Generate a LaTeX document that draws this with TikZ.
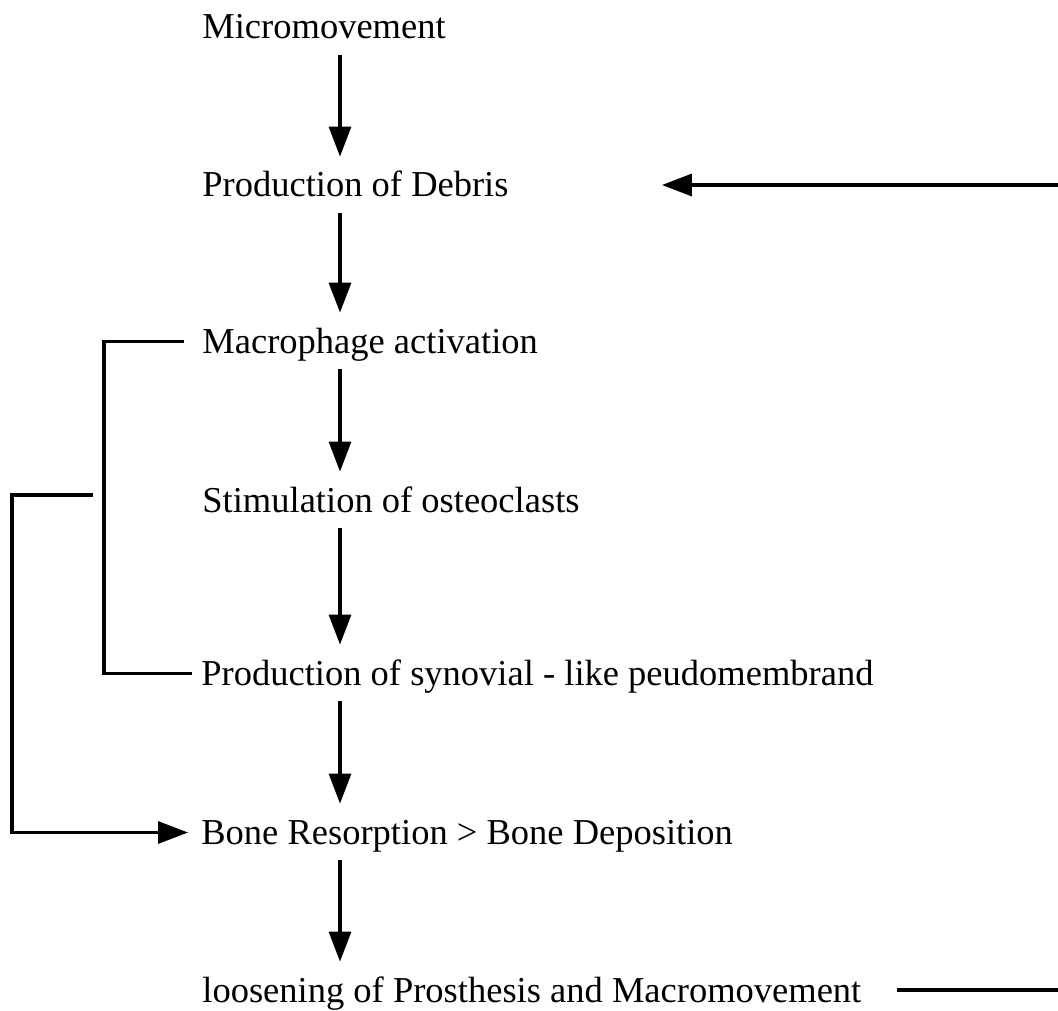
\documentclass[tikz,border=0pt]{standalone}
\usepackage{fontspec}
\setmainfont{Liberation Serif}
\usetikzlibrary{arrows.meta}

\begin{document}
\begin{tikzpicture}[x=0.5pt, y=-0.5pt,
  stage/.style={inner sep=0pt, anchor=base west, text height=12.5pt, text depth=1pt,
    font=\fontsize{18.25}{22}\selectfont},
  link/.style={line width=1.6pt},
  flow/.style={link, -{Triangle[length=15pt, width=11pt]}}]
  \useasboundingbox (0,0) rectangle (1058,1010);

  % stages, one under the other
  \node[stage] (micro) at (202,39) {Micromovement};
  \node[stage] (debris) at (202,197) {Production of Debris};
  \node[stage] (macro) at (202,353) {Macrophage activation};
  \node[stage] (stim) at (202,512) {Stimulation of osteoclasts};
  \node[stage] (syn) at (201,685) {Production of synovial - like peudomembrand};
  \node[stage] (bone) at (201,844) {Bone Resorption > Bone Deposition};
  \node[stage] (loose) at (202,1002) {loosening of Prosthesis and Macromovement};

  % main chain
  \coordinate (spine) at (340,0);
  \foreach \a/\b in {micro/debris, debris/macro, macro/stim, stim/syn, syn/bone, bone/loose}
    \draw[flow, shorten <=7pt, shorten >=7.5pt] (\a.south -| spine) -- (\b.north -| spine);

  % feedback loop back to debris (runs off the right edge)
  \coordinate (outlow) at (1058,990);
  \coordinate (outhigh) at (1058,185);
  \draw[link] ([xshift=17.5pt]loose.east |- outlow) -- (outlow);
  \draw[flow] (outhigh) -- ([xshift=76.5pt]debris.east |- outhigh);

  % bracket and side path to bone resorption
  \coordinate (brk) at (104,0);
  \coordinate (outer) at (12,0);
  \coordinate (mid) at (93,495);
  \draw[link] ([xshift=-9pt]macro.west) -- (macro.west -| brk) -- (syn.west -| brk) -- ([xshift=-4.5pt]syn.west);
  \draw[flow] (mid) -- (mid -| outer) -- (bone.west -| outer) -- ([xshift=-6.5pt]bone.west);
\end{tikzpicture}
\end{document}
